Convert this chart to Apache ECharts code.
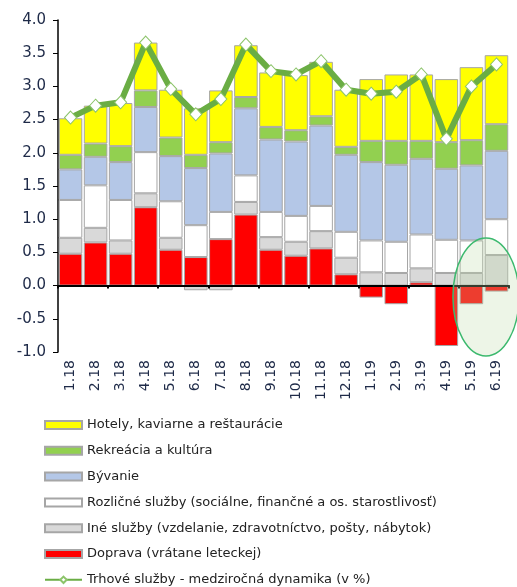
<!DOCTYPE html>
<html>
<head>
<meta charset="utf-8">
<script src="https://cdn.jsdelivr.net/npm/echarts@6/dist/echarts.min.js"></script>
<style>
  html, body { margin: 0; padding: 0; background: #fff; }
  #chart { width: 517px; height: 587px; }
</style>
</head>
<body>
<div id="chart"></div>
<script>
const months = ['1.18', '2.18', '3.18', '4.18', '5.18', '6.18', '7.18', '8.18', '9.18',
  '10.18', '11.18', '12.18', '1.19', '2.19', '3.19', '4.19', '5.19', '6.19']

// stacked contributions, bottom to top
const doprava = [0.48, 0.65, 0.48, 1.18, 0.54, 0.43, 0.70, 1.07, 0.54, 0.45, 0.56, 0.17, -0.18, -0.28, 0.05, -0.91, -0.28, -0.09]
const ineSluzby = [0.24, 0.22, 0.20, 0.21, 0.18, -0.07, -0.07, 0.19, 0.19, 0.21, 0.26, 0.25, 0.20, 0.19, 0.21, 0.19, 0.19, 0.46]
const rozlicne = [0.57, 0.64, 0.61, 0.62, 0.55, 0.48, 0.41, 0.40, 0.38, 0.39, 0.38, 0.39, 0.48, 0.47, 0.51, 0.50, 0.49, 0.54]
const byvanie = [0.46, 0.43, 0.57, 0.68, 0.68, 0.86, 0.88, 1.01, 1.09, 1.12, 1.21, 1.16, 1.18, 1.16, 1.14, 1.07, 1.13, 1.03]
const rekreacia = [0.22, 0.20, 0.24, 0.25, 0.28, 0.20, 0.17, 0.17, 0.19, 0.17, 0.14, 0.12, 0.32, 0.36, 0.27, 0.40, 0.38, 0.40]
const hotely = [0.55, 0.57, 0.65, 0.72, 0.72, 0.70, 0.78, 0.78, 0.82, 0.83, 0.82, 0.86, 0.93, 1.00, 1.00, 0.95, 1.10, 1.04]
const trhove = [2.53, 2.71, 2.76, 3.66, 2.96, 2.58, 2.81, 3.63, 3.23, 3.18, 3.38, 2.95, 2.89, 2.92, 3.18, 2.21, 3.00, 3.33]

const names = {
  hotely: 'Hotely, kaviarne a reštaurácie',
  rekreacia: 'Rekreácia a kultúra',
  byvanie: 'Bývanie',
  rozlicne: 'Rozličné služby (sociálne, finančné a os. starostlivosť)',
  ine: 'Iné služby (vzdelanie, zdravotníctvo, pošty, nábytok)',
  doprava: 'Doprava (vrátane leteckej)',
  trhove: 'Trhové služby - medziročná dynamika (v %)',
}

const font = 'DejaVu Sans'
const axisText = '#1e2a48'

function barSeries(name, data, color) {
  return {
    name,
    type: 'bar',
    stack: 'total',
    barCategoryGap: '6%',
    data,
    itemStyle: { color, borderColor: '#a6a6a6', borderWidth: 1 },
  }
}

const chart = echarts.init(document.getElementById('chart'))

chart.setOption({
  animation: false,
  backgroundColor: '#fff',
  grid: { left: 58, right: 8, top: 20, bottom: 235 },
  legend: {
    orient: 'vertical',
    left: 44,
    top: 417,
    height: 260,
    padding: 0,
    itemWidth: 37,
    itemHeight: 8,
    itemGap: 9.8,
    textStyle: { fontFamily: font, fontSize: 13, color: '#222', lineHeight: 16 },
    data: [
      { name: names.hotely, icon: 'rect' },
      { name: names.rekreacia, icon: 'rect' },
      { name: names.byvanie, icon: 'rect' },
      { name: names.rozlicne, icon: 'rect' },
      { name: names.ine, icon: 'rect' },
      { name: names.doprava, icon: 'rect' },
      { name: names.trhove },
    ],
  },
  xAxis: [
    {
      type: 'category',
      data: months,
      axisLine: { onZero: true, lineStyle: { color: '#000', width: 2 } },
      axisTick: { show: true, length: 3, lineStyle: { color: '#000', width: 2 } },
      axisLabel: { show: false },
      splitLine: { show: false },
      z: 5,
    },
    {
      type: 'category',
      data: months,
      position: 'bottom',
      axisLine: { show: false, onZero: false },
      axisTick: { show: false },
      axisLabel: { rotate: 90, margin: 8, fontFamily: font, fontSize: 14, color: axisText },
    },
  ],
  yAxis: {
    type: 'value',
    min: -1,
    max: 4,
    interval: 0.5,
    axisLine: { show: true, lineStyle: { color: '#000', width: 1.5 } },
    axisTick: { show: true, length: 5, lineStyle: { color: '#000' } },
    axisLabel: {
      margin: 12,
      fontFamily: font,
      fontSize: 15,
      color: axisText,
      formatter: (v) => v.toFixed(1),
    },
    splitLine: { show: false },
  },
  series: [
    barSeries(names.doprava, doprava, '#ff0000'),
    barSeries(names.ine, ineSluzby, '#d9d9d9'),
    barSeries(names.rozlicne, rozlicne, '#ffffff'),
    barSeries(names.byvanie, byvanie, '#b4c7e7'),
    barSeries(names.rekreacia, rekreacia, '#92d050'),
    barSeries(names.hotely, hotely, '#ffff00'),
    {
      name: names.trhove,
      type: 'line',
      data: trhove,
      z: 10,
      symbol: 'diamond',
      symbolSize: [12, 13],
      lineStyle: { color: '#6aad44', width: 6 },
      itemStyle: { color: '#ffffff', borderColor: '#8cc46a', borderWidth: 1 },
    },
  ],
})

// highlight ellipse around the last two months
const p16 = chart.convertToPixel({ xAxisIndex: 0 }, months[16])
const p17 = chart.convertToPixel({ xAxisIndex: 0 }, months[17])
const cy = chart.convertToPixel({ yAxisIndex: 0 }, -0.17)
chart.setOption({
  graphic: [{
    type: 'ellipse',
    shape: { cx: p16 + (p17 - p16) * 0.58, cy, rx: 33, ry: 59 },
    style: { fill: 'rgba(190, 220, 170, 0.28)', stroke: '#3cb96e', lineWidth: 1.5 },
    z: 100,
  }],
})
</script>
</body>
</html>
